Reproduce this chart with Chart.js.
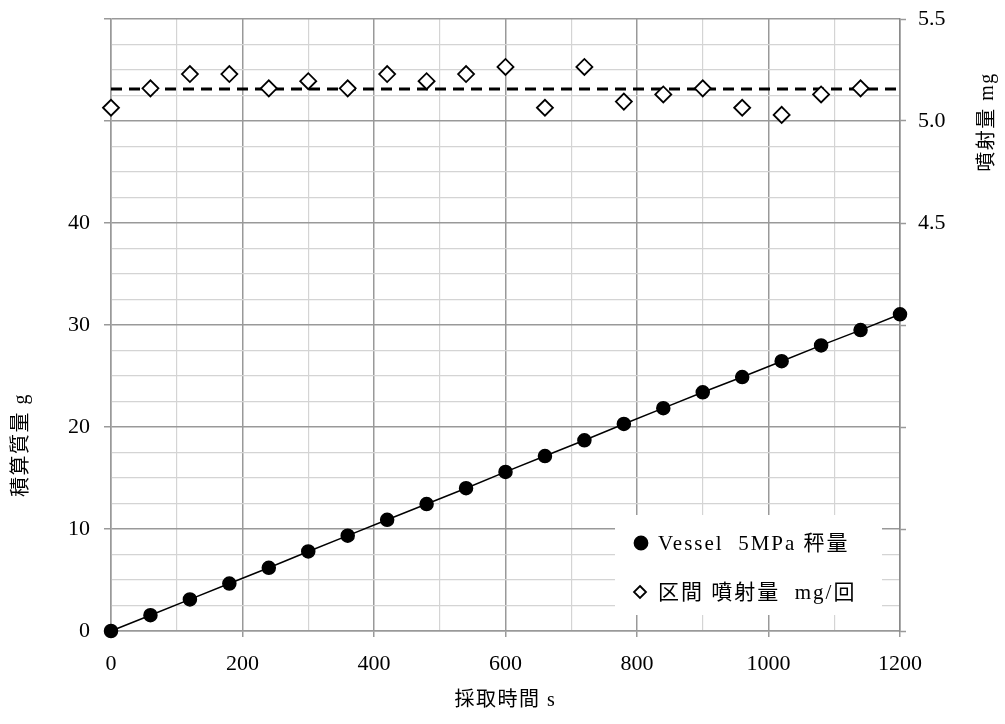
<!DOCTYPE html>
<html>
<head>
    <meta charset="utf-8">
    <title>積算質量と噴射量</title>
    <script src="https://cdn.jsdelivr.net/npm/chart.js@4.4.0/dist/chart.umd.min.js"></script>
    <style>
        body {
            margin: 0;
            background-color: white;
        }
        .chart-box {
            width: 1005px;
            height: 724px;
            position: relative;
        }
    </style>
</head>
<body>
    <div class="chart-box">
        <canvas id="massChart"></canvas>
    </div>

    <script>
        // 秤量データ (積算質量 g)
        const timeS = [0, 60, 120, 180, 240, 300, 360, 420, 480, 540, 600,
                       660, 720, 780, 840, 900, 960, 1020, 1080, 1140, 1200];
        const massG = [0, 1.55, 3.1, 4.65, 6.2, 7.8, 9.35, 10.9, 12.45, 14.0, 15.6,
                       17.15, 18.7, 20.3, 21.85, 23.4, 24.9, 26.45, 28.0, 29.5, 31.05];

        // 区間 噴射量 mg/回
        const injTimeS = [0, 60, 120, 180, 240, 300, 360, 420, 480, 540,
                          600, 660, 720, 780, 840, 900, 960, 1020, 1080, 1140];
        const injMg = [5.065, 5.16, 5.23, 5.23, 5.16, 5.195, 5.16, 5.23, 5.195, 5.23,
                       5.265, 5.065, 5.265, 5.095, 5.13, 5.16, 5.065, 5.03, 5.13, 5.16];

        // 平均値 (破線)
        const injMeanMg = 5.157;
        const meanSpan = [0, 1200];

        const legendLabels = ['Vessel  5MPa 秤量', '区間 噴射量  mg/回'];
        const xTitle = '採取時間 s';
        const yTitle = '積算質量 g';
        const y2Title = '噴射量 mg';

        const FONT = "'Liberation Serif', 'Times New Roman', 'Noto Sans CJK JP', serif";
        const MAJOR = '#999999';
        const MINOR = '#d4d4d4';

        // 軸タイトルと凡例を描く
        const annotate = {
            id: 'annotate',
            afterDraw(chart) {
                const ctx = chart.ctx;
                const a = chart.chartArea;
                ctx.save();
                ctx.fillStyle = '#000';
                ctx.textAlign = 'center';
                ctx.textBaseline = 'middle';
                ctx.font = '20px ' + FONT;
                ctx.letterSpacing = '1.5px';
                ctx.fillText(xTitle, (a.left + a.right) / 2, 701);

                ctx.save();
                ctx.translate(22, 445);
                ctx.rotate(-Math.PI / 2);
                ctx.fillText(yTitle, 0, 0);
                ctx.restore();

                ctx.save();
                ctx.translate(988, 122);
                ctx.rotate(-Math.PI / 2);
                ctx.fillText(y2Title, 0, 0);
                ctx.restore();

                // 凡例
                const bx = 615, by = 515, bw = 267, bh = 100;
                ctx.fillStyle = 'white';
                ctx.fillRect(bx, by, bw, bh);
                ctx.textAlign = 'left';
                ctx.font = '21px ' + FONT;
                ctx.letterSpacing = '2px';
                const rows = [543, 592];
                [0, 1].forEach(i => {
                    const ds = chart.data.datasets[i];
                    ctx.fillStyle = ds.pointBackgroundColor;
                    ctx.strokeStyle = '#000';
                    ctx.lineWidth = 1.8;
                    ctx.beginPath();
                    if (i === 0) {
                        ctx.arc(641, rows[i], 6.5, 0, Math.PI * 2);
                    } else {
                        ctx.moveTo(640, rows[i] - 6);
                        ctx.lineTo(646, rows[i]);
                        ctx.lineTo(640, rows[i] + 6);
                        ctx.lineTo(634, rows[i]);
                        ctx.closePath();
                    }
                    ctx.fill();
                    ctx.stroke();
                    ctx.fillStyle = '#000';
                    ctx.fillText(legendLabels[i], 658, rows[i] + 1);
                });
                ctx.restore();
            }
        };

        const whiteBg = {
            id: 'whiteBg',
            beforeDraw(chart) {
                const ctx = chart.ctx;
                ctx.save();
                ctx.fillStyle = 'white';
                ctx.fillRect(0, 0, chart.width, chart.height);
                ctx.restore();
            }
        };

        const isHalf = v => Math.abs(v * 2 - Math.round(v * 2)) < 1e-6;

        function fitY(width) {
            return s => {
                s.width = width;
                s.paddingTop = 0;
                s.paddingBottom = 0;
            };
        }

        function createChart() {
            const ctx = document.getElementById('massChart').getContext('2d');
            new Chart(ctx, {
                type: 'scatter',
                data: {
                    datasets: [{
                        label: legendLabels[0],
                        data: timeS.map((t, i) => ({ x: t, y: massG[i] })),
                        showLine: true,
                        clip: false,
                        borderColor: '#000',
                        borderWidth: 1.5,
                        pointStyle: 'circle',
                        pointRadius: 6.5,
                        pointBackgroundColor: '#000',
                        pointBorderColor: '#000',
                        yAxisID: 'y'
                    }, {
                        label: legendLabels[1],
                        data: injTimeS.map((t, i) => ({ x: t, y: injMg[i] })),
                        showLine: false,
                        clip: false,
                        pointStyle: 'rectRot',
                        pointRadius: 8,
                        pointBorderWidth: 1.8,
                        pointBackgroundColor: '#fff',
                        pointBorderColor: '#000',
                        yAxisID: 'y2'
                    }, {
                        label: 'mean',
                        data: meanSpan.map(t => ({ x: t, y: injMeanMg })),
                        showLine: true,
                        borderColor: '#000',
                        borderWidth: 3,
                        borderDash: [11, 7],
                        pointRadius: 0,
                        yAxisID: 'y2'
                    }]
                },
                options: {
                    responsive: true,
                    maintainAspectRatio: false,
                    animation: false,
                    layout: { padding: { top: 19, left: 0, right: 0, bottom: 0 } },
                    plugins: {
                        legend: { display: false },
                        tooltip: { enabled: false }
                    },
                    scales: {
                        x: {
                            type: 'linear',
                            min: 0,
                            max: 1200,
                            afterFit: s => {
                                s.height = 93;
                                s.paddingLeft = 0;
                                s.paddingRight = 0;
                            },
                            border: { color: MAJOR, width: 1.5 },
                            grid: {
                                color: c => (c.tick.value % 200 === 0 ? MAJOR : MINOR),
                                lineWidth: c => (c.tick.value % 200 === 0 ? 1.5 : 1.2),
                                tickColor: c => (c.tick.value % 200 === 0 ? MAJOR : 'rgba(0,0,0,0)'),
                                tickLength: 6,
                                tickWidth: 1.5
                            },
                            ticks: {
                                stepSize: 100,
                                padding: 14,
                                maxRotation: 0,
                                autoSkip: false,
                                color: '#000',
                                font: { family: FONT, size: 22 },
                                callback: v => (v % 200 === 0 ? v : '')
                            }
                        },
                        y: {
                            position: 'left',
                            min: 0,
                            max: 60,
                            afterFit: fitY(111),
                            border: { color: MAJOR, width: 1.5 },
                            grid: {
                                color: c => (c.tick.value % 10 === 0 ? MAJOR : MINOR),
                                lineWidth: c => (c.tick.value % 10 === 0 ? 1.5 : 1.2),
                                tickColor: c => (c.tick.value % 10 === 0 ? MAJOR : 'rgba(0,0,0,0)'),
                                tickLength: 7,
                                tickWidth: 1.5
                            },
                            ticks: {
                                stepSize: 2.5,
                                padding: 14,
                                autoSkip: false,
                                color: '#000',
                                font: { family: FONT, size: 22 },
                                callback: v => (v % 10 === 0 && v <= 40 ? v : '')
                            }
                        },
                        y2: {
                            position: 'right',
                            min: 2.5,
                            max: 5.5,
                            afterFit: fitY(105),
                            border: { color: '#8a8a8a', width: 1.5 },
                            grid: {
                                drawOnChartArea: false,
                                tickColor: c => (isHalf(c.tick.value) ? MAJOR : 'rgba(0,0,0,0)'),
                                tickLength: 6,
                                tickWidth: 1.5
                            },
                            ticks: {
                                stepSize: 0.125,
                                padding: 12,
                                autoSkip: false,
                                color: '#000',
                                font: { family: FONT, size: 22 },
                                callback: v => (isHalf(v) && v >= 4.5 ? v.toFixed(1) : '')
                            }
                        }
                    }
                },
                plugins: [whiteBg, annotate]
            });
        }

        createChart();
    </script>
</body>
</html>
